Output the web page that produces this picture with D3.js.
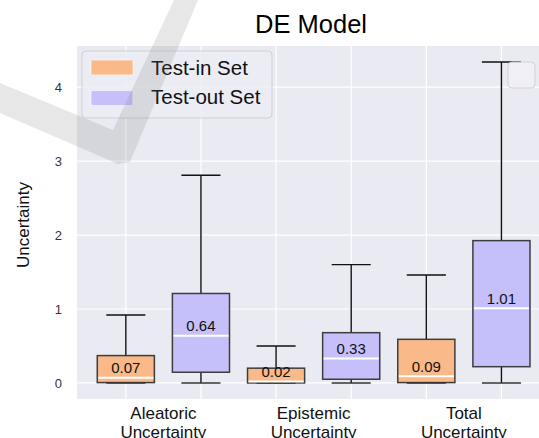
<!DOCTYPE html>
<html>
<head>
<meta charset="utf-8">
<script src="https://cdn.jsdelivr.net/npm/d3@7"></script>
<style>
  body { margin: 0; background: #fff; }
  text { font-family: "Liberation Sans", Arial, sans-serif; }
</style>
</head>
<body>
<script>
const categories = [["Aleatoric", "Uncertainty"], ["Epistemic", "Uncertainty"], ["Total", "Uncertainty"]];
const series = ["Test-in Set", "Test-out Set"];
const colors = ["#F9B988", "#C5C0F9"];

// box stats per series, one value per category
const whiskLow = [[0, 0, 0], [0, 0, 0]];
const q1 = [[0.005, 0.0, 0.005], [0.145, 0.05, 0.22]];
const medians = [[0.07, 0.02, 0.09], [0.64, 0.33, 1.01]];
const q3 = [[0.37, 0.20, 0.59], [1.21, 0.68, 1.925]];
const whiskHigh = [[0.92, 0.50, 1.46], [2.81, 1.60, 4.34]];

const yTicks = [0, 1, 2, 3, 4];

const width = 539, height = 438;
const mLeft = 77, mRight = 539, mTop = 46, mBottom = 399;

const svg = d3.select('body').append('svg')
    .attr('width', width)
    .attr('height', height);

const x = d3.scaleLinear().domain([-0.65, 5.5]).range([mLeft, mRight]);
const y = d3.scaleLinear().domain([-0.217, 4.557]).range([mBottom, mTop]);

// background
svg.append('rect')
    .attr('x', mLeft).attr('y', mTop)
    .attr('width', mRight - mLeft).attr('height', mBottom - mTop)
    .attr('fill', '#EAEAF2');

// gridlines
svg.append('g').selectAll('line')
    .data(yTicks)
    .enter().append('line')
    .attr('x1', mLeft).attr('x2', mRight)
    .attr('y1', d => y(d)).attr('y2', d => y(d))
    .attr('stroke', '#fff').attr('stroke-width', 1.2);

const positions = d3.range(6);
svg.append('g').selectAll('line')
    .data(positions)
    .enter().append('line')
    .attr('x1', d => x(d)).attr('x2', d => x(d))
    .attr('y1', mTop).attr('y2', mBottom)
    .attr('stroke', '#fff').attr('stroke-width', 1.2);

// y tick labels
svg.append('g').selectAll('text')
    .data(yTicks)
    .enter().append('text')
    .attr('x', 62).attr('y', d => y(d) + 5)
    .attr('text-anchor', 'end')
    .attr('font-size', 13)
    .attr('fill', '#333')
    .text(d => d);

// boxes
const boxes = [];
series.forEach((s, si) => {
  categories.forEach((c, ci) => {
    boxes.push({
      pos: ci * 2 + si, si: si,
      lo: whiskLow[si][ci], q1: q1[si][ci], med: medians[si][ci],
      q3: q3[si][ci], hi: whiskHigh[si][ci]
    });
  });
});

const boxW = 0.76, capW = 0.52;
const gb = svg.append('g');
const bx = gb.selectAll('g').data(boxes).enter().append('g');

bx.append('line')
    .attr('x1', d => x(d.pos)).attr('x2', d => x(d.pos))
    .attr('y1', d => y(d.q3)).attr('y2', d => y(d.hi))
    .attr('stroke', '#111').attr('stroke-width', 1.4);
bx.append('line')
    .attr('x1', d => x(d.pos)).attr('x2', d => x(d.pos))
    .attr('y1', d => y(d.q1)).attr('y2', d => y(d.lo))
    .attr('stroke', '#111').attr('stroke-width', 1.4);
bx.append('line')
    .attr('x1', d => x(d.pos - capW / 2)).attr('x2', d => x(d.pos + capW / 2))
    .attr('y1', d => y(d.hi)).attr('y2', d => y(d.hi))
    .attr('stroke', '#111').attr('stroke-width', 1.4);
bx.append('rect')
    .attr('x', d => x(d.pos - boxW / 2))
    .attr('width', x(boxW) - x(0))
    .attr('y', d => y(d.q3))
    .attr('height', d => y(d.q1) - y(d.q3))
    .attr('fill', d => colors[d.si])
    .attr('stroke', '#3d3d3d').attr('stroke-width', 1.5);
bx.append('line')
    .attr('x1', d => x(d.pos - capW / 2)).attr('x2', d => x(d.pos + capW / 2))
    .attr('y1', d => y(d.lo)).attr('y2', d => y(d.lo))
    .attr('stroke', '#333').attr('stroke-width', 1.6);
bx.append('line')
    .attr('x1', d => x(d.pos - boxW / 2) + 1).attr('x2', d => x(d.pos + boxW / 2) - 1)
    .attr('y1', d => y(d.med)).attr('y2', d => y(d.med))
    .attr('stroke', '#fff').attr('stroke-width', 2);
bx.append('text')
    .attr('x', d => x(d.pos))
    .attr('y', d => y(d.med) - 4.5)
    .attr('text-anchor', 'middle')
    .attr('font-size', 15)
    .attr('fill', '#111')
    .text(d => d.med.toFixed(2));

// x labels
const xl = svg.append('g').selectAll('text')
    .data(categories)
    .enter().append('text')
    .attr('text-anchor', 'middle')
    .attr('font-size', 17)
    .attr('fill', '#111');
xl.selectAll('tspan')
    .data((d, i) => d.map(t => ({ t: t, i: i })))
    .enter().append('tspan')
    .attr('x', d => x(d.i * 2 + 0.5))
    .attr('y', (d, j) => 419 + j * 19)
    .text(d => d.t);

// y label
svg.append('text')
    .attr('transform', 'translate(29,225) rotate(-90)')
    .attr('text-anchor', 'middle')
    .attr('font-size', 17)
    .attr('fill', '#111')
    .text('Uncertainty');

// title
svg.append('text')
    .attr('x', 311).attr('y', 33)
    .attr('text-anchor', 'middle')
    .attr('font-size', 25.5)
    .attr('fill', '#000')
    .text('DE Model');

// legend
const lg = svg.append('g');
lg.append('rect')
    .attr('x', 82).attr('y', 51).attr('width', 190).attr('height', 67)
    .attr('rx', 4)
    .attr('fill', 'rgba(236,236,244,0.85)')
    .attr('stroke', '#cfcfd4').attr('stroke-width', 1);
series.forEach((s, i) => {
  lg.append('rect')
      .attr('x', 91).attr('y', 60 + i * 30.5)
      .attr('width', 42).attr('height', 15)
      .attr('fill', colors[i])
      .attr('stroke', '#f4f4f8').attr('stroke-width', 0.8);
  lg.append('text')
      .attr('x', 151).attr('y', 74.5 + i * 29.5)
      .attr('font-size', 20.5)
      .attr('fill', '#111')
      .text(s);
});

// empty legend frame at top right
svg.append('rect')
    .attr('x', 508).attr('y', 62).attr('width', 27).attr('height', 26)
    .attr('rx', 4)
    .attr('fill', 'rgba(240,240,246,0.85)')
    .attr('stroke', '#cfcfd4').attr('stroke-width', 1);

// watermark check
svg.append('path')
    .attr('d', 'M0,83 L113,130 L174,0 L198,0 L130,162 L118,164 L0,113 Z')
    .attr('fill', 'rgba(110,110,110,0.17)');
</script>
</body>
</html>
